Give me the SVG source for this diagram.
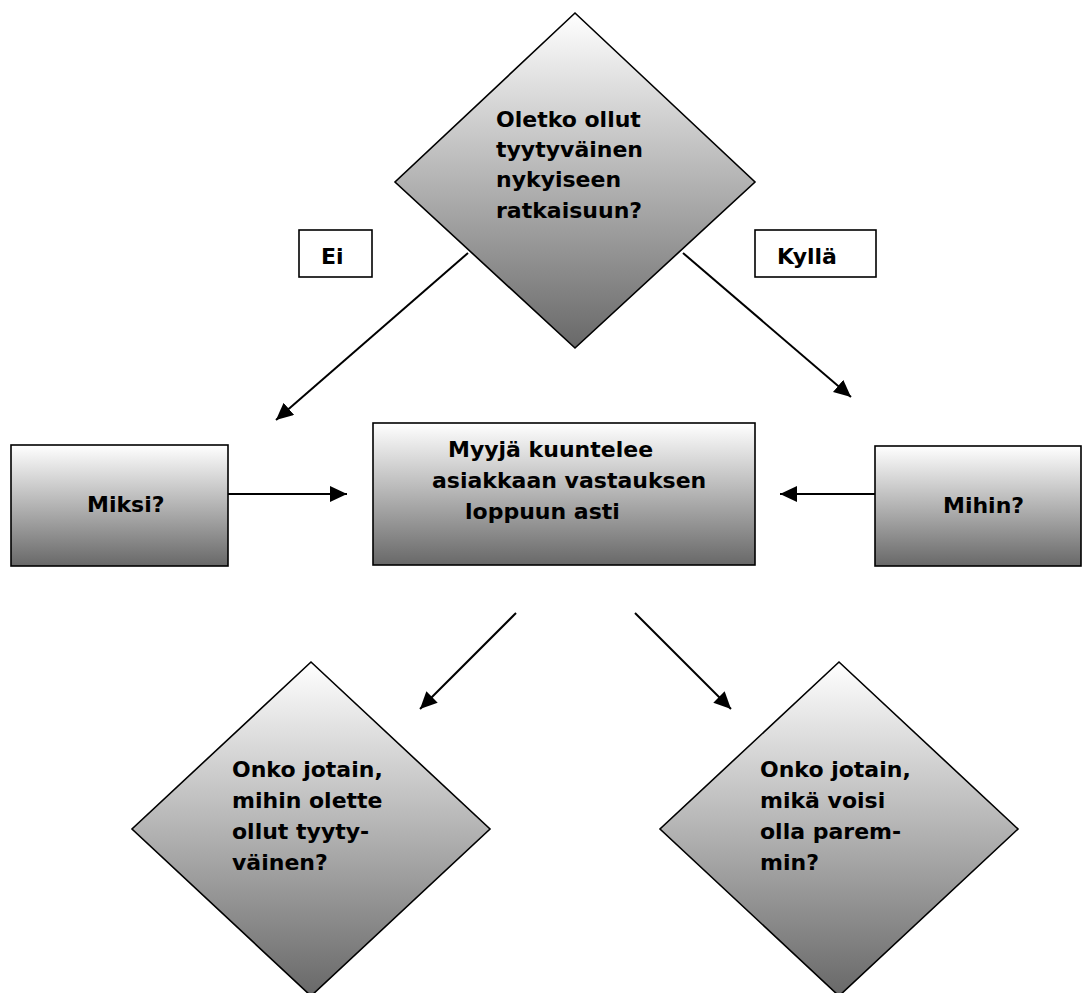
<svg xmlns="http://www.w3.org/2000/svg" width="1082" height="993" viewBox="0 0 1082 993">
<defs>
<linearGradient id="g" x1="0" y1="0" x2="0" y2="1">
<stop offset="0" stop-color="#ffffff"/>
<stop offset="1" stop-color="#686868"/>
</linearGradient>
<marker id="ah" markerUnits="userSpaceOnUse" markerWidth="18" markerHeight="16" refX="17" refY="8" orient="auto">
<path d="M0,0 L17,8 L0,16 z" fill="#000"/>
</marker>
</defs>
<style>
.shape{fill:url(#g);stroke:#000;stroke-width:1.6}
.lbl{fill:#fff;stroke:#000;stroke-width:1.6}
.t{font-family:"DejaVu Sans",Verdana,sans-serif;font-weight:bold;font-size:22px;fill:#000}
.c{stroke:#000;stroke-width:2;fill:none;marker-end:url(#ah)}
</style>
<rect width="1082" height="993" fill="#fff"/>
<g id="connectors">
<line class="c" x1="468" y1="253" x2="276" y2="420"/>
<line class="c" x1="683" y1="253" x2="851" y2="397"/>
<line class="c" x1="228" y1="494" x2="347" y2="494"/>
<line class="c" x1="875" y1="494" x2="780" y2="494"/>
<line class="c" x1="516" y1="613" x2="420" y2="709"/>
<line class="c" x1="635" y1="613" x2="731" y2="709"/>
</g>
<g id="q-top">
<polygon class="shape" points="575,13 755,182 575,348 395,182"/>
<text class="t" x="496" y="127">Oletko ollut</text>
<text class="t" x="496" y="157">tyytyväinen</text>
<text class="t" x="496" y="187">nykyiseen</text>
<text class="t" x="496" y="218">ratkaisuun?</text>
</g>
<g id="lbl-ei">
<rect class="lbl" x="299" y="230" width="73" height="47"/>
<text class="t" x="321" y="264">Ei</text>
</g>
<g id="lbl-kylla">
<rect class="lbl" x="755" y="230" width="121" height="47"/>
<text class="t" x="777" y="264">Kyllä</text>
</g>
<g id="miksi">
<rect class="shape" x="11" y="445" width="217" height="121"/>
<text class="t" x="87" y="512">Miksi?</text>
</g>
<g id="center">
<rect class="shape" x="373" y="423" width="382" height="142"/>
<text class="t" x="448" y="457">Myyjä kuuntelee</text>
<text class="t" x="432" y="488">asiakkaan vastauksen</text>
<text class="t" x="465" y="519">loppuun asti</text>
</g>
<g id="mihin">
<rect class="shape" x="875" y="446" width="206" height="120"/>
<text class="t" x="943" y="513">Mihin?</text>
</g>
<g id="q-left">
<polygon class="shape" points="311,662 490,829 311,996 132,829"/>
<text class="t" x="232" y="777">Onko jotain,</text>
<text class="t" x="232" y="808">mihin olette</text>
<text class="t" x="232" y="839">ollut tyyty-</text>
<text class="t" x="232" y="870">väinen?</text>
</g>
<g id="q-right">
<polygon class="shape" points="839,662 1018,829 839,996 660,829"/>
<text class="t" x="760" y="777">Onko jotain,</text>
<text class="t" x="760" y="808">mikä voisi</text>
<text class="t" x="760" y="839">olla parem-</text>
<text class="t" x="760" y="870">min?</text>
</g>
</svg>
